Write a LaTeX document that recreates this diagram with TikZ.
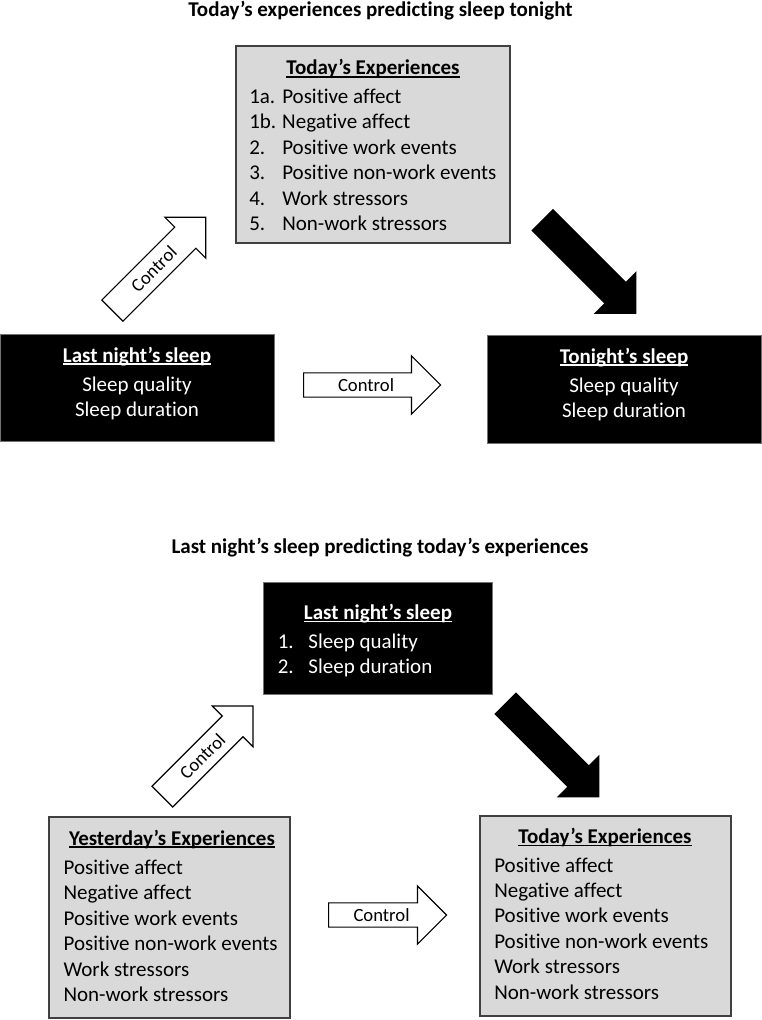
\documentclass[tikz,border=0pt]{standalone}
\usepackage{fontspec}
\setmainfont{Carlito}[Ligatures=NoCommon]
\usetikzlibrary{shapes.arrows}
\newsavebox{\undertextbox}
\newcommand{\undertext}[1]{\sbox{\undertextbox}{#1}\rlap{\rule[-2pt]{\wd\undertextbox}{0.9pt}}\usebox{\undertextbox}}

\begin{document}
\begin{tikzpicture}[x=0.75pt,y=-0.75pt,
    every node/.style={font=\fontsize{15.75}{19.1}\selectfont, inner sep=0pt},
    greybox/.style={rectangle, draw=black!75, line width=1.1pt, fill=black!15},
    blackbox/.style={rectangle, draw=black!55, line width=0.6pt, fill=black},
    title/.style={font=\fontsize{15.75}{19.1}\selectfont\bfseries, anchor=base},
    head/.style={font=\fontsize{15.75}{19.1}\selectfont\bfseries, anchor=base},
    ctrl/.style={single arrow, draw, line width=0.9pt, fill=white, anchor=tail,
      font=\fontsize{14}{16}\selectfont, text height=9.5pt, text depth=0pt, inner xsep=2pt},
    big/.style={single arrow, fill=black, anchor=tail, inner ysep=11.25pt,
      single arrow head extend=11.25pt, minimum height=100pt}]
  \useasboundingbox (0,0) rectangle (761,1020);

  % today's experiences predicting sleep tonight
  \node[title] (title1) at (380.5,17) {Today’s experiences predicting sleep tonight};

  \node[greybox, minimum width=205.5pt, minimum height=147.75pt] (todayexp) at (373,144.5) {};
  \node[head] (todayhead) at (373,75) {\undertext{Today’s Experiences}};
  \node[anchor=base west] (todaylist) at (249,103.5) {\begin{tabular}[t]{@{}p{24.75pt}@{}l@{}}
    1a. & Positive affect\\
    1b. & Negative affect\\
    2. & Positive work events\\
    3. & Positive non-work events\\
    4. & Work stressors\\
    5. & Non-work stressors
  \end{tabular}};

  \node[blackbox, minimum width=205.5pt, minimum height=80.25pt] (lastsleep) at (137,387.5) {};
  \node[head, text=white] (lasthead) at (137,362) {\undertext{Last night’s sleep}};
  \node[anchor=base, text=white] (lastlist) at (137,391) {\begin{tabular}[t]{@{}c@{}}
    Sleep quality\\
    Sleep duration
  \end{tabular}};

  \node[blackbox, minimum width=205.5pt, minimum height=81pt] (tonightsleep) at (624,389) {};
  \node[head, text=white] (tonighthead) at (624,363) {\undertext{Tonight’s sleep}};
  \node[anchor=base, text=white] (tonightlist) at (624,392) {\begin{tabular}[t]{@{}c@{}}
    Sleep quality\\
    Sleep duration
  \end{tabular}};

  \node[ctrl, rotate=45, inner ysep=6pt, single arrow head extend=10.5pt, minimum height=99pt] (ctrlup) at (112,311) {Control};
  \node[ctrl, inner ysep=3.9pt, single arrow head extend=12.75pt, minimum height=102.75pt] (ctrlright) at (303,385) {Control};
  \node[big, rotate=-45] (bigdown) at (542,219.5) {};

  % last night's sleep predicting today's experiences
  \node[title] (title2) at (380,553) {Last night’s sleep predicting today’s experiences};

  \node[blackbox, minimum width=171.75pt, minimum height=84pt] (lastsleepb) at (377.5,638) {};
  \node[head, text=white] (lastheadb) at (378,619.5) {\undertext{Last night’s sleep}};
  \node[anchor=base west, text=white] (lastlistb) at (277.5,648.5) {\begin{tabular}[t]{@{}p{23pt}@{}l@{}}
    1. & Sleep quality\\
    2. & Sleep duration
  \end{tabular}};

  \node[greybox, minimum width=180.75pt, minimum height=150.75pt] (yestexp) at (169.5,917.5) {};
  \node[head] (yesthead) at (172,845) {\undertext{Yesterday’s Experiences}};
  \node[anchor=base west] (yestlist) at (63.3,874.3) {\begin{tabular}[t]{@{}l@{}}
    Positive affect\\
    Negative affect\\
    Positive work events\\
    Positive non-work events\\
    Work stressors\\
    Non-work stressors
  \end{tabular}};

  \node[greybox, minimum width=188.25pt, minimum height=150pt] (todayexpb) at (605.5,916) {};
  \node[head] (todayheadb) at (605,843.5) {\undertext{Today’s Experiences}};
  \node[anchor=base west] (todaylistb) at (494,872) {\begin{tabular}[t]{@{}l@{}}
    Positive affect\\
    Negative affect\\
    Positive work events\\
    Positive non-work events\\
    Work stressors\\
    Non-work stressors
  \end{tabular}};

  \node[ctrl, rotate=45, inner ysep=5.8pt, single arrow head extend=10.5pt, minimum height=96pt] (ctrlupb) at (162,797) {Control};
  \node[ctrl, inner ysep=3.9pt, single arrow head extend=12.75pt, minimum height=88.5pt] (ctrlrightb) at (328,915) {Control};
  \node[big, rotate=-45] (bigdownb) at (505,703) {};
\end{tikzpicture}
\end{document}
